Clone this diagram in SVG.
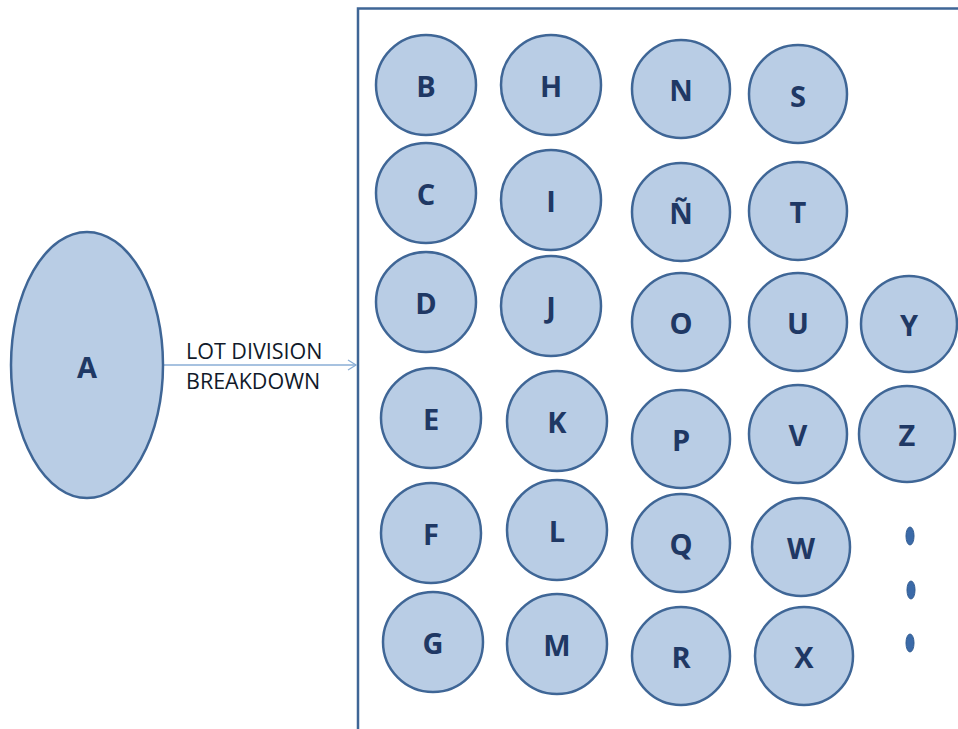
<svg xmlns="http://www.w3.org/2000/svg" width="958" height="729" viewBox="0 0 958 729">
<defs>
<style>
.n{fill:#b9cde5;stroke:#3f6696;stroke-width:2.5}
.t{font-family:"Open Sans","Liberation Sans",sans-serif;font-weight:bold;font-size:29px;fill:#1f3864;text-anchor:middle;dominant-baseline:central}
.lbl{font-family:"Open Sans","Liberation Sans",sans-serif;font-size:21.5px;fill:#111a2a}
.dot{fill:#3b6aa8;stroke:#2f5a90;stroke-width:1}
</style>
<marker id="ah" markerWidth="12" markerHeight="12" refX="10" refY="6" orient="auto" markerUnits="userSpaceOnUse">
<path d="M2,1 L10,6 L2,11" fill="none" stroke="#8aaed6" stroke-width="1.3"/>
</marker>
</defs>
<rect width="958" height="729" fill="#fff"/>
<g id="box"><path d="M358,729 L358,8.5 L958,8.5" fill="none" stroke="#3f6696" stroke-width="2.5"/></g>
<g id="connectors">
<line x1="163" y1="365" x2="356" y2="365" stroke="#8aaed6" stroke-width="1.3" marker-end="url(#ah)"/>
<text class="lbl" x="186" y="359">LOT DIVISION</text>
<text class="lbl" x="186" y="389">BREAKDOWN</text>
</g>
<g id="A"><ellipse class="n" cx="87" cy="365" rx="76" ry="133"/><text class="t" x="87" y="366">A</text></g>
<g id="B"><circle class="n" cx="426" cy="85" r="50"/><text class="t" x="426" y="85">B</text></g>
<g id="H"><circle class="n" cx="551" cy="85" r="50"/><text class="t" x="551" y="85">H</text></g>
<g id="N"><circle class="n" cx="681" cy="89" r="49"/><text class="t" x="681" y="89">N</text></g>
<g id="S"><circle class="n" cx="798" cy="94" r="49"/><text class="t" x="798" y="95">S</text></g>
<g id="C"><circle class="n" cx="426" cy="193" r="50"/><text class="t" x="426" y="193">C</text></g>
<g id="I"><circle class="n" cx="551" cy="200" r="50"/><text class="t" x="551" y="200">I</text></g>
<g id="Ñ"><circle class="n" cx="681" cy="212" r="49"/><text class="t" x="681" y="212">Ñ</text></g>
<g id="T"><circle class="n" cx="798" cy="211" r="49"/><text class="t" x="798" y="211">T</text></g>
<g id="D"><circle class="n" cx="426" cy="302" r="50"/><text class="t" x="426" y="302">D</text></g>
<g id="J"><circle class="n" cx="551" cy="306" r="50"/><text class="t" x="551" y="306">J</text></g>
<g id="O"><circle class="n" cx="681" cy="322" r="49"/><text class="t" x="681" y="322">O</text></g>
<g id="U"><circle class="n" cx="798" cy="322" r="49"/><text class="t" x="798" y="322">U</text></g>
<g id="Y"><circle class="n" cx="909" cy="324" r="48"/><text class="t" x="909" y="324">Y</text></g>
<g id="E"><circle class="n" cx="431" cy="418" r="50"/><text class="t" x="431" y="418">E</text></g>
<g id="K"><circle class="n" cx="557" cy="421" r="50"/><text class="t" x="557" y="421">K</text></g>
<g id="P"><circle class="n" cx="681" cy="439" r="49"/><text class="t" x="681" y="439">P</text></g>
<g id="V"><circle class="n" cx="798" cy="434" r="49"/><text class="t" x="798" y="434">V</text></g>
<g id="Z"><circle class="n" cx="907" cy="434" r="48"/><text class="t" x="907" y="434">Z</text></g>
<g id="F"><circle class="n" cx="431" cy="533" r="50"/><text class="t" x="431" y="533">F</text></g>
<g id="L"><circle class="n" cx="557" cy="530" r="50"/><text class="t" x="557" y="530">L</text></g>
<g id="Q"><circle class="n" cx="681" cy="543" r="49"/><text class="t" x="681" y="543">Q</text></g>
<g id="W"><circle class="n" cx="801" cy="547" r="49"/><text class="t" x="801" y="547">W</text></g>
<g id="G"><circle class="n" cx="433" cy="642" r="50"/><text class="t" x="433" y="642">G</text></g>
<g id="M"><circle class="n" cx="557" cy="644" r="50"/><text class="t" x="557" y="644">M</text></g>
<g id="R"><circle class="n" cx="681" cy="656" r="49"/><text class="t" x="681" y="656">R</text></g>
<g id="X"><circle class="n" cx="804" cy="656" r="49"/><text class="t" x="804" y="656">X</text></g>
<g id="dots">
<ellipse class="dot" cx="910" cy="536" rx="4" ry="9"/>
<ellipse class="dot" cx="911" cy="590" rx="4" ry="9"/>
<ellipse class="dot" cx="910" cy="643" rx="4" ry="9"/>
</g>
</svg>
